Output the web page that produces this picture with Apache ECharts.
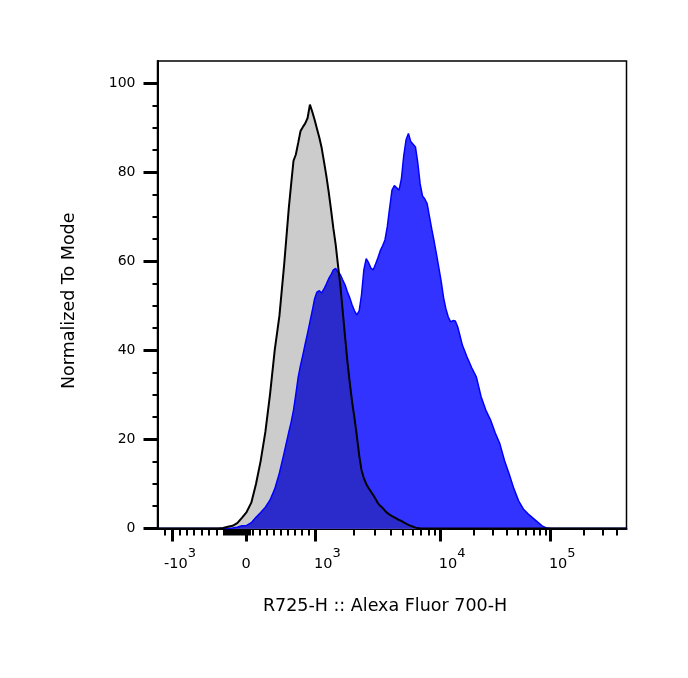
<!DOCTYPE html>
<html>
<head>
<meta charset="utf-8">
<script src="https://cdn.jsdelivr.net/npm/echarts@6/dist/echarts.min.js"></script>
<style>
  html, body { margin: 0; background: #fff; }
  #chart { width: 688px; height: 678px; }
</style>
</head>
<body>
<div id="chart"></div>
<script>
// x positions in display channels (0..1000 across the biex axis)
var CH = [0, 120, 130, 140, 150, 160, 170, 180, 190, 200, 210, 220, 230, 240, 250, 260, 270,
  280, 285, 290, 295, 300, 305, 310, 315, 320, 325, 330, 335, 340, 345, 350, 355, 360, 365, 370,
  375, 380, 385, 390, 395, 400, 405, 410, 415, 420, 425, 430, 435, 440, 445, 450, 455, 460, 465,
  470, 475, 480, 485, 490, 495, 500, 505, 510, 515, 520, 525, 530, 535, 540, 545, 550, 555, 560,
  565, 570, 575, 580, 585, 590, 595, 600, 605, 610, 615, 620, 625, 630, 635, 640, 645, 650,
  660, 670, 680, 690, 700, 710, 720, 730, 740, 750, 760, 770, 780, 790, 800, 810, 820, 830, 840, 1000];

// unstained control (grey, black outline)
var GRAY = [0, 0, 0, 0.1, 0.4, 0.6, 1.2, 2.4, 3.7, 5.8, 10, 15.2, 21.7, 30.2, 40.1, 47.8, 59.2,
  72, 77.4, 82.6, 84, 86.6, 89.3, 90.2, 91, 92.2, 95.2, 93.6, 91.8, 89.8, 87.8, 85.5, 82.4, 79.2, 75.6, 71.6,
  67.4, 63.7, 59, 54.5, 48.7, 43, 37.4, 32.7, 28.4, 24.8, 20.8, 16.5, 13.1, 11.3, 10, 9.1, 8.3, 7.5, 6.6,
  5.7, 5.1, 4.6, 4.0, 3.5, 3.1, 2.8, 2.5, 2.2, 1.9, 1.7, 1.4, 1.1, 0.8, 0.6, 0.4, 0.2, 0.1, 0,
  0, 0, 0, 0, 0, 0, 0, 0, 0, 0, 0, 0, 0, 0, 0, 0, 0, 0,
  0, 0, 0, 0, 0, 0, 0, 0, 0, 0, 0, 0, 0, 0, 0, 0, 0, 0, 0, 0];

// stained sample (blue)
var BLUE = [0, 0, 0, 0, 0, 0.1, 0.3, 0.6, 0.7, 1.3, 2.5, 3.6, 4.8, 6.4, 8.9, 12.5, 17,
  21.7, 23.9, 26.6, 30.2, 34, 36.7, 39, 41.5, 43.9, 46.4, 48.9, 51.6, 53.1, 53.4, 52.9, 53.8, 54.9, 56.1, 57,
  58.1, 58.4, 57.6, 57, 55.8, 54.7, 53.1, 51.8, 50.2, 48.9, 48, 48.9, 52.5, 58.1, 60.6, 59.7, 58.5, 58.1, 59.4,
  60.8, 62.4, 63.5, 64.8, 67.8, 72, 76, 77, 76.5, 76, 78.5, 83.7, 87.3, 88.7, 86.9, 86.3, 85.7, 82.1, 77.4,
  74.7, 74, 72.9, 70, 67.1, 64.4, 61.5, 58.5, 55.4, 51.8, 49.3, 47.5, 46.4, 46.7, 46.6, 45.3, 43.3, 41.2,
  38.5, 36.1, 34, 29.6, 26.6, 24.4, 21.5, 19, 15.2, 12.2, 8.9, 6.2, 4.4, 3.3, 2.4, 1.5, 0.6, 0.1, 0, 0];

var Y_MAJOR = [0, 20, 40, 60, 80, 100];
var Y_MINOR = [5, 10, 15, 25, 30, 35, 45, 50, 55, 65, 70, 75, 85, 90, 95];

var X_MAJOR = [-1000, 0, 1000, 10000, 100000];
var X_LABELS = ['{b|-10}{s|3}', '{b|0}', '{b|10}{s|3}', '{b|10}{s|4}', '{b|10}{s|5}'];
var X_LABEL_SHIFT = [17, 0, 25, 25, 25];
var X_MINOR = [-2000, -900, -800, -700, -600, -500, -400, -300, -200, -100,
  100, 200, 300, 400, 500, 600, 700, 800, 900,
  2000, 3000, 4000, 5000, 6000, 7000, 8000, 9000,
  20000, 30000, 40000, 50000, 60000, 70000, 80000, 90000,
  200000, 300000, 400000];

// biex-like display transform (intensity -> channel)
function toCh(v) {
  var zero = 188.7, negK = 0.1578, posK = 0.1486;
  if (v < -1000) return zero - 1000 * negK - Math.log10(-v / 1000) * 49;
  if (v <= 0) return zero + v * negK;
  if (v <= 1000) return zero + v * posK;
  if (v <= 10000) return 337.3 + Math.log10(v / 1000) * 266.1;
  return 603.4 + Math.log10(v / 10000) * 234.6;
}

var majorCh = X_MAJOR.map(toCh);
var labelCh = majorCh.map(function (c, i) { return +(c + X_LABEL_SHIFT[i]).toFixed(2); });
var minorCh = X_MINOR.map(toCh);
for (var v = -280; v <= 60; v += 20) minorCh.push(toCh(v));

var overlap = CH.map(function (c, i) { return [c, Math.min(GRAY[i], BLUE[i])]; });
var grayData = CH.map(function (c, i) { return [c, GRAY[i]]; });
var blueData = CH.map(function (c, i) { return [c, BLUE[i]]; });

var FONT = 'DejaVu Sans';

var option = {
  animation: false,
  grid: {
    left: 157.5, right: 61.5, top: 61, bottom: 149.5,
    show: true, borderColor: '#000', borderWidth: 1.5
  },
  xAxis: [{
    type: 'value', position: 'bottom', min: 0, max: 1000,
    name: 'R725-H :: Alexa Fluor 700-H',
    nameLocation: 'middle', nameGap: 69,
    nameTextStyle: { fontFamily: FONT, fontSize: 17.5, color: '#000', padding: [0, 14, 0, 0] },
    axisLine: { show: true, lineStyle: { color: '#000', width: 2 } },
    axisTick: { show: true, customValues: majorCh, length: 13, lineStyle: { color: '#000', width: 3 } },
    axisLabel: {
      customValues: labelCh, margin: 18,
      formatter: function (val) {
        var i = labelCh.indexOf(+(+val).toFixed(2));
        return i < 0 ? '' : X_LABELS[i];
      },
      rich: {
        b: { fontFamily: FONT, fontSize: 14.5, color: '#000', padding: [10, 0, 0, 0] },
        s: { fontFamily: FONT, fontSize: 13, color: '#000', padding: [0, 0, 11, 0] }
      }
    },
    splitLine: { show: false }
  }, {
    type: 'value', position: 'bottom', min: 0, max: 1000,
    axisLine: { show: false },
    axisTick: { show: true, customValues: minorCh, length: 7, lineStyle: { color: '#000', width: 2 } },
    axisLabel: { show: false },
    splitLine: { show: false }
  }],
  yAxis: [{
    type: 'value', position: 'left', min: 0, max: 105,
    name: 'Normalized To Mode',
    nameLocation: 'middle', nameGap: 79,
    nameTextStyle: { fontFamily: FONT, fontSize: 17.5, color: '#000', padding: [0, 12, 0, 0] },
    axisLine: { show: true, lineStyle: { color: '#000', width: 2 } },
    axisTick: { show: true, customValues: Y_MAJOR, length: 14, lineStyle: { color: '#000', width: 3 } },
    axisLabel: { customValues: Y_MAJOR, margin: 22, fontFamily: FONT, fontSize: 14, color: '#000' },
    splitLine: { show: false }
  }, {
    type: 'value', position: 'left', min: 0, max: 105,
    axisLine: { show: false },
    axisTick: { show: true, customValues: Y_MINOR, length: 5, lineStyle: { color: '#000', width: 2 } },
    axisLabel: { show: false },
    splitLine: { show: false }
  }],
  series: [{
    name: 'control fill', type: 'line', data: grayData, showSymbol: false,
    lineStyle: { opacity: 0 }, areaStyle: { color: '#cccccc', opacity: 1 }
  }, {
    name: 'sample fill', type: 'line', data: blueData, showSymbol: false,
    lineStyle: { opacity: 0 }, areaStyle: { color: '#3333ff', opacity: 1 }
  }, {
    name: 'overlap', type: 'line', data: overlap, showSymbol: false,
    lineStyle: { opacity: 0 }, areaStyle: { color: '#2b2bcc', opacity: 1 }
  }, {
    name: 'sample', type: 'line', data: blueData, showSymbol: false,
    lineStyle: { color: '#0000ff', width: 1.5 }
  }, {
    name: 'control', type: 'line', data: grayData, showSymbol: false,
    lineStyle: { color: '#000', width: 2 }
  }]
};

echarts.init(document.getElementById('chart')).setOption(option);
</script>
</body>
</html>
